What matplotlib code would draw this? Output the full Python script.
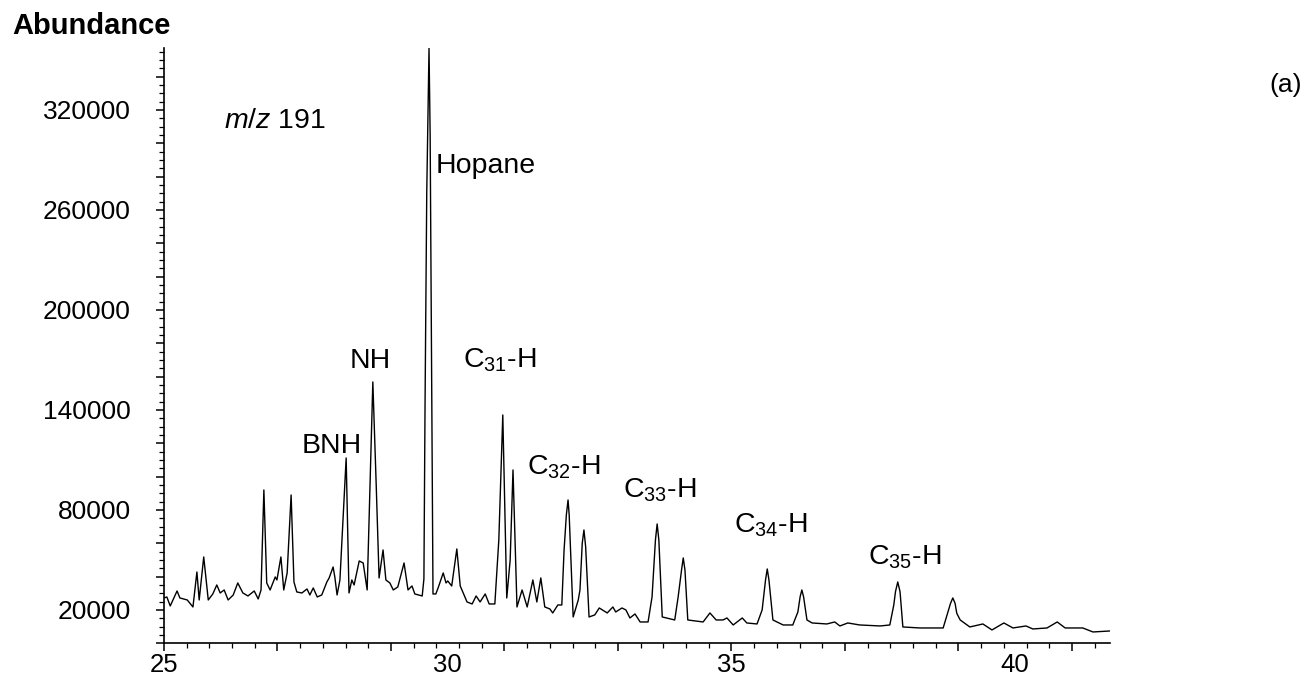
import numpy as np
import matplotlib
matplotlib.use('Agg')
import matplotlib.pyplot as plt
from matplotlib.ticker import FixedLocator, NullFormatter, FuncFormatter

plt.rcParams['font.family'] = ['Liberation Sans', 'DejaVu Sans']
plt.rcParams['mathtext.fontset'] = 'custom'
plt.rcParams['mathtext.rm'] = 'Liberation Sans'
plt.rcParams['mathtext.it'] = 'Liberation Sans:italic'

# m/z 191 trace
# (each line of rt matches the same line of abundance)
rt = [25.00, 25.05, 25.11, 25.23, 25.28, 25.41, 25.51, 25.58, 25.62, 25.70,
      25.78, 25.86, 25.93, 25.99, 26.06, 26.13, 26.22, 26.30, 26.39, 26.48,
      26.59, 26.66, 26.71, 26.76, 26.81, 26.87, 26.96, 26.99, 27.06, 27.11,
      27.17, 27.24, 27.29, 27.34, 27.43, 27.52, 27.57, 27.63, 27.70, 27.78,
      27.87, 27.91, 27.98, 28.01, 28.05, 28.10, 28.21, 28.26, 28.31, 28.35,
      28.44, 28.51, 28.58, 28.68, 28.74, 28.79, 28.86, 28.91, 28.98, 29.04,
      29.12, 29.23, 29.30, 29.37, 29.42, 29.55, 29.58, 29.60, 29.63, 29.67,
      29.69, 29.72, 29.74, 29.79, 29.83, 29.92, 29.97, 30.00, 30.07, 30.16,
      30.22, 30.34, 30.43, 30.50, 30.57, 30.66, 30.73, 30.83, 30.90, 30.97,
      31.04, 31.10, 31.15, 31.22, 31.31, 31.40, 31.50, 31.57, 31.64, 31.71,
      31.80, 31.85, 31.94, 32.01, 32.05, 32.09, 32.12, 32.14, 32.21, 32.30,
      32.33, 32.37, 32.40, 32.43, 32.49, 32.59, 32.67, 32.81, 32.91, 32.96,
      33.07, 33.14, 33.21, 33.30, 33.39, 33.53, 33.60, 33.66, 33.69, 33.72,
      33.78, 34.00, 34.06, 34.12, 34.15, 34.18, 34.23, 34.50, 34.62, 34.73,
      34.85, 34.92, 35.03, 35.19, 35.27, 35.45, 35.54, 35.60, 35.63, 35.66,
      35.73, 35.91, 36.08, 36.17, 36.21, 36.24, 36.27, 36.33, 36.42, 36.68,
      36.82, 36.91, 37.05, 37.26, 37.62, 37.79, 37.86, 37.89, 37.93, 37.97,
      38.02, 38.32, 38.73, 38.81, 38.86, 38.90, 38.94, 38.97, 39.03, 39.20,
      39.43, 39.59, 39.80, 39.96, 40.19, 40.31, 40.56, 40.74, 40.88, 41.19,
      41.37, 41.67]

abundance = [27200, 27800, 22400, 31400, 27200, 26000, 21800, 42800, 26000, 51800,
             26000, 29600, 35000, 30200, 32000, 26000, 29000, 36200, 30200, 28400,
             31400, 26600, 32000, 92000, 36200, 32000, 39800, 38000, 51800, 32000,
             42200, 89000, 36800, 30800, 30200, 32600, 29000, 33200, 27800, 29000,
             36800, 39200, 45800, 39800, 29000, 38000, 111200, 30200, 38000, 35000,
             49400, 48200, 32000, 156800, 94400, 39200, 56000, 38000, 36200, 32000,
             33800, 48200, 32000, 34400, 29600, 28400, 38600, 143000, 270200, 357000,
             305000, 134000, 29600, 29600, 33200, 42200, 36200, 37400, 34400, 56600,
             34400, 24800, 23600, 28400, 24800, 29600, 23600, 23600, 62000, 137000,
             27200, 50000, 104000, 21800, 32000, 21800, 38000, 24800, 39200, 21800,
             20600, 18200, 23000, 23000, 56000, 77000, 86000, 77000, 15800, 26000,
             32000, 60000, 68000, 58000, 15800, 17000, 21200, 18200, 21800, 18800,
             21200, 20000, 15200, 17600, 12800, 12800, 27800, 62000, 71600, 62000,
             15800, 14000, 27800, 44000, 51200, 44000, 14000, 12800, 18200, 14000,
             14000, 15200, 11000, 15200, 12200, 11600, 20000, 38000, 44600, 38000,
             14000, 11000, 11000, 18800, 28000, 32000, 28000, 14000, 12200, 11600,
             12800, 10400, 12200, 11000, 10400, 11000, 23000, 31000, 36800, 31000,
             9800, 9200, 9200, 18200, 24000, 27200, 24000, 18000, 14000, 9800,
             11600, 8000, 12200, 9200, 10400, 8600, 9200, 12800, 9200, 9200,
             6800, 7400]

x_labels = [25, 30, 35, 40]
y_labels = [20000, 80000, 140000, 200000, 260000, 320000]

# compound names and where they are written (rt, abundance of text baseline)
peak_names = ['BNH', 'NH', 'C$_{31}$-H', 'C$_{32}$-H', 'C$_{33}$-H',
              'C$_{34}$-H', 'C$_{35}$-H']
name_rt = [27.96, 28.63, 30.92, 32.05, 33.74, 35.70, 38.06]
name_ab = [114200, 165200, 165200, 101000, 87200, 66200, 47000]


fig = plt.figure(figsize=(13.11, 6.8), dpi=100)
ax = fig.add_axes([164 / 1311, 1 - 643.3 / 680, 946 / 1311, 595 / 680])

ax.plot(rt, abundance, color='black', lw=1.0)
ax.set_xlim(25, 41.67)
ax.set_ylim(0, 357000)

for side in ['top', 'right']:
    ax.spines[side].set_visible(False)
for side in ['left', 'bottom']:
    ax.spines[side].set_linewidth(1.2)

# x axis: long ticks every 2 min, short every 0.4 min, numbers on a second axis
ax.xaxis.set_major_locator(FixedLocator(np.arange(25, 41.7, 2)))
ax.xaxis.set_major_formatter(NullFormatter())
ax.xaxis.set_minor_locator(FixedLocator(np.arange(25, 41.7, 0.4)))
ax.tick_params(axis='x', which='major', length=6, width=1.1)
ax.tick_params(axis='x', which='minor', length=3.5, width=0.9)

sec = ax.secondary_xaxis('bottom')
sec.set_xticks(x_labels)
sec.spines['bottom'].set_visible(False)
sec.tick_params(length=0, pad=7, labelsize=18.5)

# y axis
ax.yaxis.set_major_locator(FixedLocator(np.arange(0, 357001, 20000)))
ax.yaxis.set_minor_locator(FixedLocator(np.arange(0, 357001, 5000)))
ax.yaxis.set_major_formatter(FuncFormatter(
    lambda v, p: str(int(round(v))) if int(round(v)) in y_labels else ''))
ax.tick_params(axis='y', which='major', length=6, width=1.1, pad=18, labelsize=19)
ax.tick_params(axis='y', which='minor', length=3.5, width=0.9)

for name, x, y in zip(peak_names, name_rt, name_ab):
    ax.text(x, y, name, fontsize=20.5, ha='center', va='baseline')
ax.text(29.79, 282200, 'Hopane', fontsize=20.5, ha='left', va='baseline')
ax.text(26.06, 309200, '$m/z$ 191', fontsize=20.5, ha='left', va='baseline')

fig.text(12 / 1311, 1 - 26 / 680, 'Abundance', fontsize=21, fontweight='bold',
         ha='left', va='center')
fig.text(1286 / 1311, 1 - 85 / 680, '(a)', fontsize=19, ha='center', va='center')

fig.savefig('out.png', dpi=100)
